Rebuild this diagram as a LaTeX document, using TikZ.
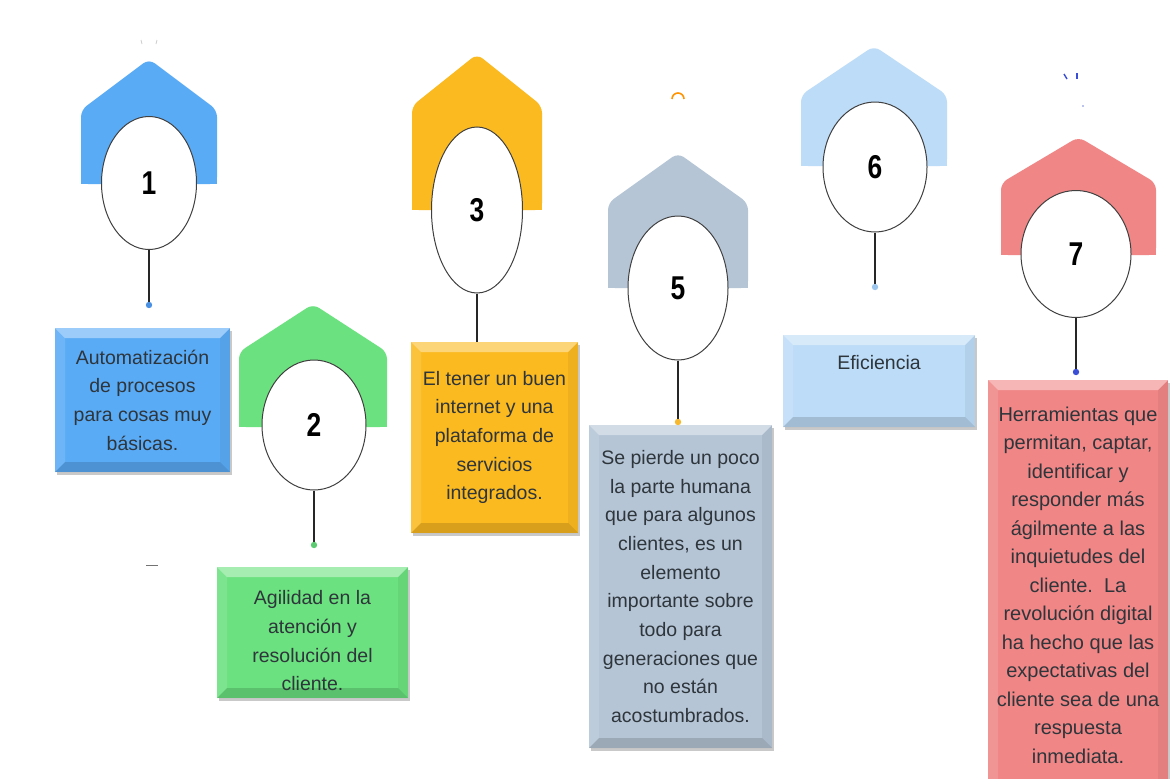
\documentclass[tikz,border=0pt]{standalone}
\usepackage{fontspec}
\setmainfont{Liberation Sans}
\newfontfamily\numfont[FakeStretch=0.8]{Liberation Sans}
\usetikzlibrary{shapes.geometric,shadows}
\definecolor{cA}{HTML}{5AABF6}
\definecolor{cB}{HTML}{6BE17F}
\definecolor{cC}{HTML}{FBBA20}
\definecolor{cE}{HTML}{B5C5D6}
\definecolor{cF}{HTML}{BDDCF8}
\definecolor{cG}{HTML}{F08686}
\definecolor{txt}{HTML}{2E353B}
\definecolor{dotA}{HTML}{4A90E2}
\definecolor{dotB}{HTML}{5CCB72}
\definecolor{dotE}{HTML}{F5B82E}
\definecolor{dotF}{HTML}{9CC5EE}
\definecolor{dotG}{HTML}{3A4FD6}
\newcommand\hhouse[6]{%
  \fill[#6, rounded corners=7pt] (#1,#5) -- (#1,#4) -- ({(#1+#2)/2},#3) -- (#2,#4) -- (#2,#5) -- cycle;
  \fill[#6] (#1,{#4+14}) rectangle (#2,#5);
}
\tikzset{
  ell/.style={ellipse, draw=black!75, line width=1pt, fill=white, inner sep=0pt,
    font=\numfont\bfseries\fontsize{33}{33}\selectfont},
  conn/.style={draw=black!85, line width=1.8pt},
  bbox/.style={inner sep=0pt, align=center, text=txt,
    font=\fontsize{19.5}{28.7}\selectfont,
    drop shadow={shadow xshift=2pt, shadow yshift=-3pt, opacity=0.35, fill=black!60},
    path picture={
      \fill[white, opacity=.40] (path picture bounding box.north west) -- (path picture bounding box.north east)
        -- ([shift={(-10pt,-10pt)}]path picture bounding box.north east) -- ([shift={(10pt,-10pt)}]path picture bounding box.north west) -- cycle;
      \fill[white, opacity=.12] (path picture bounding box.north west) -- ([shift={(10pt,-10pt)}]path picture bounding box.north west)
        -- ([shift={(10pt,10pt)}]path picture bounding box.south west) -- (path picture bounding box.south west) -- cycle;
      \fill[black, opacity=.05] (path picture bounding box.north east) -- ([shift={(-10pt,-10pt)}]path picture bounding box.north east)
        -- ([shift={(-10pt,10pt)}]path picture bounding box.south east) -- (path picture bounding box.south east) -- cycle;
      \fill[black, opacity=.14] (path picture bounding box.south west) -- ([shift={(10pt,10pt)}]path picture bounding box.south west)
        -- ([shift={(-10pt,10pt)}]path picture bounding box.south east) -- (path picture bounding box.south east) -- cycle;
    }},
}
\begin{document}
\begin{tikzpicture}[x=1pt,y=-1pt]
\clip (0,0) rectangle (1170,779);
\fill[white] (0,0) rectangle (1170,779);

% houses
\hhouse{81}{217}{59}{110}{184}{cA}
\hhouse{239}{387}{304}{352}{427}{cB}
\hhouse{412}{542}{54}{106}{210}{cC}
\hhouse{608}{748}{153}{203}{288}{cE}
\hhouse{801}{947}{46}{95}{166}{cF}
\hhouse{1001}{1156}{137}{183}{255}{cG}

% ellipses
\node[ell, minimum width=95pt, minimum height=133pt] (e1) at (149,183) {1};
\node[ell, minimum width=104pt, minimum height=130pt] (e2) at (314,425) {2};
\node[ell, minimum width=91pt, minimum height=166pt] (e3) at (477,210) {3};
\node[ell, minimum width=100pt, minimum height=144pt] (e5) at (678,288) {5};
\node[ell, minimum width=104pt, minimum height=130pt] (e6) at (875,167) {6};
\node[ell, minimum width=110pt, minimum height=127pt] (e7) at (1076,254) {7};

% boxes
\node[bbox, fill=cA, minimum width=175pt, minimum height=144pt] (b1) at (142.5,400)
  {Automatización\\de procesos\\para cosas muy\\básicas.};
\node[bbox, fill=cB, minimum width=191pt, minimum height=131pt] (b2) at (312.5,632.5)
  {\rule{0pt}{31pt}Agilidad en la\\atención y\\resolución del\\cliente.};
\node[bbox, fill=cC, minimum width=167pt, minimum height=191pt] (b3) at (494.5,437.5)
  {El tener un buen\\internet y una\\plataforma de\\servicios\\integrados.};
\node[bbox, fill=cE, minimum width=183pt, minimum height=323pt] (b5) at (680.5,586.5)
  {Se pierde un poco\\la parte humana\\que para algunos\\clientes, es un\\elemento\\importante sobre\\todo para\\generaciones que\\no están\\acostumbrados.};
\node[bbox, fill=cF, minimum width=192pt, minimum height=92pt] (b6) at (879,381)
  {Eficiencia\\\strut};
\node[bbox, fill=cG, minimum width=180pt, minimum height=410pt, font=\fontsize{20}{28.5}\selectfont] (b7) at (1078,585)
  {Herramientas que\\permitan, captar,\\identificar y\\responder más\\ágilmente a las\\inquietudes del\\cliente.~~La\\revolución digital\\ha hecho que las\\expectativas del\\cliente sea de una\\respuesta\\inmediata.};

% connectors
\coordinate (d1) at (149,305);
\coordinate (d2) at (314,545);
\coordinate (d5) at (678,422);
\coordinate (d6) at (875,287);
\coordinate (d7) at (1076,372);
\draw[conn] (e1.south) -- (d1);
\draw[conn] (e2.south) -- (d2);
\draw[conn] (e3.south) -- (b3.north -| e3.south);
\draw[conn] (e5.south) -- (d5);
\draw[conn] (e6.south) -- (d6);
\draw[conn] (e7.south) -- (d7);
\fill[dotA] (d1) circle (3.2pt);
\fill[dotB] (d2) circle (3.2pt);
\fill[dotE] (d5) circle (3.2pt);
\fill[dotF] (d6) circle (3.2pt);
\fill[dotG] (d7) circle (3.2pt);

% small marks
\draw[orange!85!yellow, line width=1.6pt] (672,99) arc (180:360:6);
\draw[black!55, line width=1pt] (146,565) -- (158,565);
\draw[dotG, line width=1.4pt] (1064,74) -- (1067,79);
\draw[dotG, line width=1.2pt] (1077,73) -- (1077,79);
\fill[dotG!70] (1083,106) circle (0.9pt);
\draw[black!20, line width=0.8pt] (141,40) -- (142,44) (157,40) -- (156,44);
\end{tikzpicture}
\end{document}
